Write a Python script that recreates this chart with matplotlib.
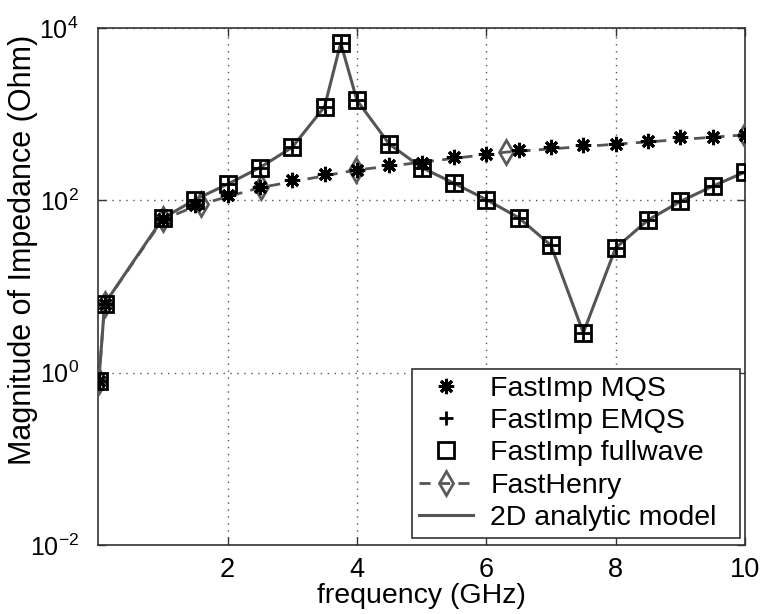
import matplotlib
matplotlib.use("Agg")
import matplotlib.pyplot as plt
import numpy as np

plt.rcParams['font.family'] = ['Liberation Sans', 'DejaVu Sans']
plt.rcParams['font.size'] = 20.5
plt.rcParams['mathtext.fontset'] = 'custom'
plt.rcParams['mathtext.rm'] = 'Liberation Sans'
plt.rcParams['mathtext.it'] = 'Liberation Sans:italic'
plt.rcParams['mathtext.bf'] = 'Liberation Sans:bold'

# Frequency sweep (GHz) used by the FastImp solvers and the analytic model
freq = [0.01, 0.1, 1.0, 1.5, 2.0, 2.5, 3.0, 3.5, 3.75, 4.0, 4.5, 5.0, 5.5,
        6.0, 6.5, 7.0, 7.5, 8.0, 8.5, 9.0, 9.5, 10.0]

# |Z| in Ohm
z_fullwave = [0.8, 6.3, 62, 102, 154, 240, 413, 1220, 6700, 1450, 450, 240,
              158, 102, 63, 30, 2.9, 28, 59, 97, 146, 213]
z_emqs = z_fullwave
z_analytic = z_fullwave

# MQS solver frequencies and values
freq_mqs = [0.01, 0.1, 1.0, 1.5, 2.0, 2.5, 3.0, 3.5, 4.0, 4.5, 5.0, 5.5, 6.0,
            6.5, 7.0, 7.5, 8.0, 8.5, 9.0, 9.5, 10.0]
z_mqs = [0.8, 6.3, 60, 88, 115, 142, 170, 200, 224, 255, 272, 319, 343,
         381, 417, 436, 448, 490, 536, 545, 570]

# FastHenry runs on a logarithmic frequency grid
freq_fh = [0.01, 0.1, 1.0, 1.585, 2.512, 3.981, 6.310, 10.0]
z_fh = [0.8, 6.3, 60, 90, 141, 224, 363, 575]

y_ticks = [1e-2, 1e0, 1e2, 1e4]
y_ticklabels = [r'$10^{-2}$', r'$10^{0}$', r'$10^{2}$', r'$10^{4}$']
x_ticks = [2, 4, 6, 8, 10]

fig = plt.figure(figsize=(7.61, 6.14), dpi=100)
ax = fig.add_axes([0.129, 0.1124, 0.850, 0.8420])

ax.plot(freq_mqs, z_mqs, linestyle='none', marker=(8, 2, 0), markersize=11,
        markeredgewidth=2.2, color='black', label='FastImp MQS', zorder=4)
ax.plot(freq, z_emqs, linestyle='none', marker='+', markersize=10,
        markeredgewidth=2.0, color='black', label='FastImp EMQS', zorder=5)
ax.plot(freq, z_fullwave, linestyle='none', marker='s', markersize=11,
        markeredgewidth=2.0, markerfacecolor='none', markeredgecolor='black',
        label='FastImp fullwave', zorder=5)
ax.plot(freq_fh, z_fh, linestyle=(0, (4, 3)), linewidth=2.0, color='#555555',
        marker='d', markersize=12.5, markeredgewidth=2.0, markerfacecolor='none',
        markeredgecolor='#5a5a5a', label='FastHenry', zorder=3)
ax.plot(freq, z_analytic, linestyle='-', linewidth=2.2, color='#555555',
        label='2D analytic model', zorder=2)

ax.set_yscale('log')
ax.set_xlim(0, 10)
ax.set_ylim(1e-2, 1e4)
ax.set_xticks(x_ticks)
ax.set_xticklabels([str(t) for t in x_ticks])
ax.set_yticks(y_ticks)
ax.set_yticklabels(y_ticklabels)
ax.yaxis.set_minor_locator(matplotlib.ticker.NullLocator())
ax.tick_params(which='both', direction='in', top=True, right=True,
               length=6, width=1.0, color='#333333')
ax.tick_params(axis='x', pad=9, labelsize=19.5)
ax.tick_params(axis='y', pad=14, labelsize=18)
ax.grid(True, which='major', linestyle=(0, (1, 4)), color='#555555', linewidth=1.0)

for s in ax.spines.values():
    s.set_color('#333333')
    s.set_linewidth(1.2)

ax.set_xlabel('frequency (GHz)', labelpad=0)
ax.set_ylabel('Magnitude of Impedance (Ohm)', fontsize=22)
ax.yaxis.set_label_coords(-0.093, 0.57)

leg = ax.legend(loc='lower left', bbox_to_anchor=(0.485, 0.0135, 0.507, 0.3),
                mode='expand', frameon=True, fancybox=False,
                edgecolor='#333333', framealpha=1, borderaxespad=0.0,
                handlelength=1.9, handletextpad=0.6, labelspacing=0.22,
                borderpad=0.25)
leg.get_frame().set_linewidth(1.2)

fig.savefig('out.png', dpi=100)
